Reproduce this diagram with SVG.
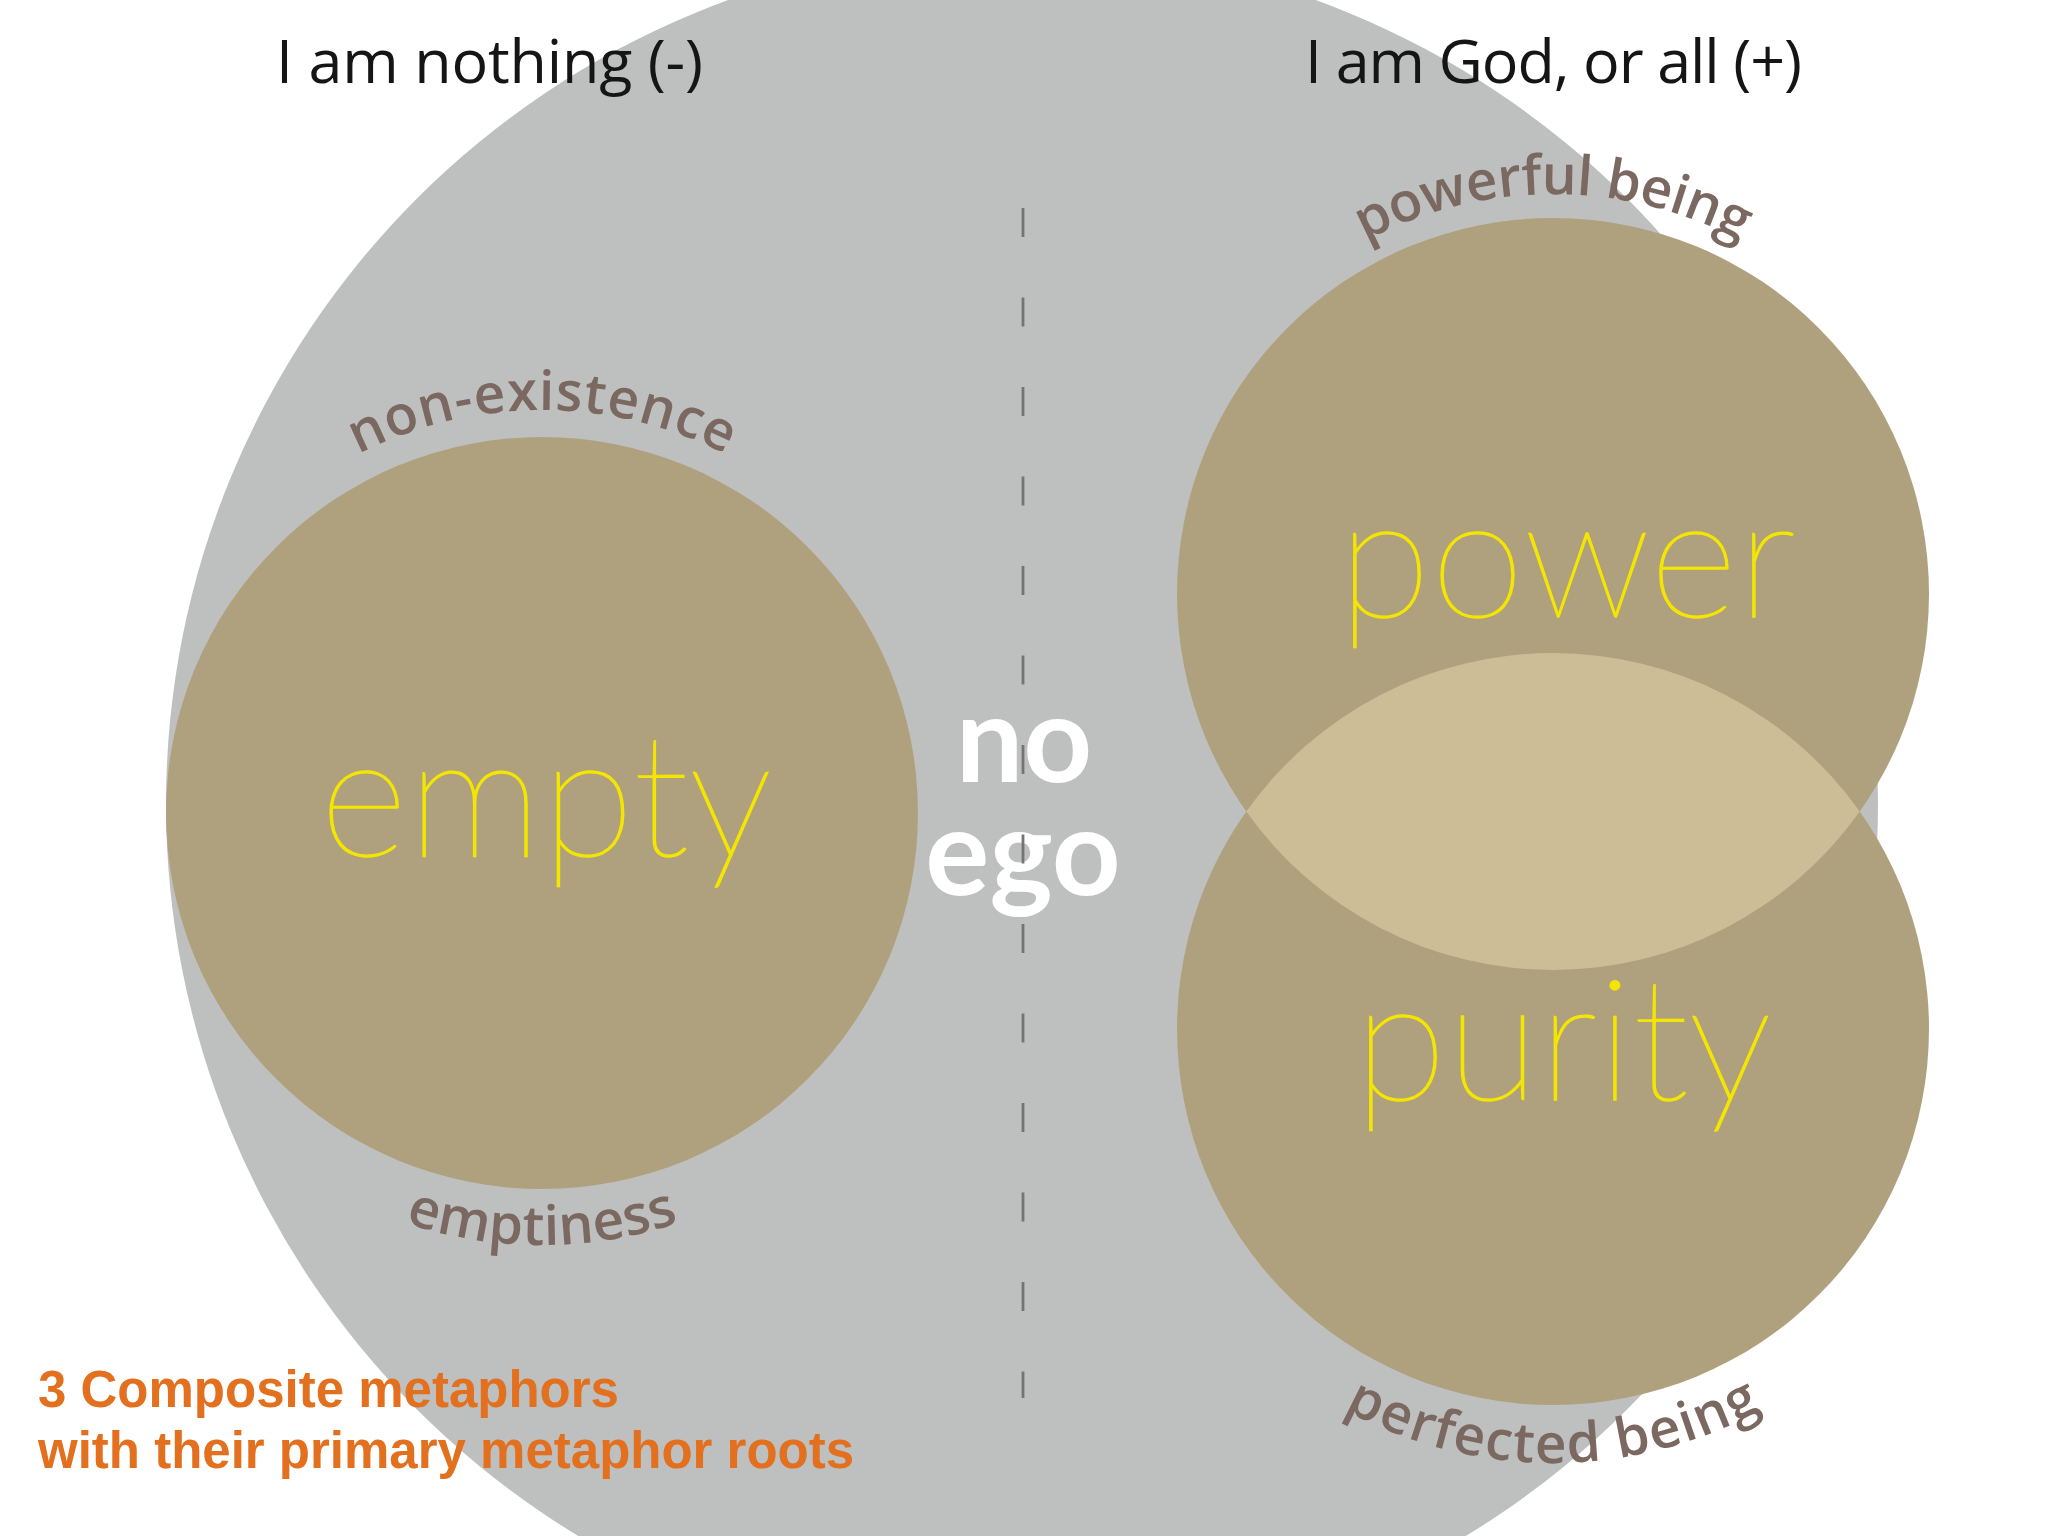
<svg xmlns="http://www.w3.org/2000/svg" width="2048" height="1536" viewBox="0 0 2048 1536">
<style>
.title{font-family:"Open Sans","Noto Sans",sans-serif;font-weight:500;font-size:61px;fill:#151515}
.root{font-family:"Open Sans","Noto Sans",sans-serif;font-weight:600;font-size:55px;fill:#7b6860}
.big{font-family:Lato,"Open Sans",sans-serif;font-weight:200;font-size:170px;fill:#f4e600;stroke:#f4e600;stroke-width:1.4px}
.noego{font-family:Lato,"Open Sans",sans-serif;font-weight:700;font-size:120px;fill:#ffffff}
.note{font-family:"Liberation Sans",Arial,sans-serif;font-weight:700;font-size:51px;fill:#e2701f}
.tan{fill:#b0a17e}
</style>
<defs>
<path id="arcNon" d="M 139,813 A 403 403 0 0 1 945,813"/>
<path id="arcEmp" d="M 110,813 A 432 432 0 0 0 974,813"/>
<path id="arcPow" d="M 1153,594 A 400 400 0 0 1 1953,594"/>
<path id="arcPer" d="M 1119,1029 A 434 434 0 0 0 1987,1029"/>
</defs>
<rect width="2048" height="1536" fill="#ffffff"/>
<g id="ego-field">
<circle cx="1022" cy="804" r="856" fill="#bec0bf"/>
</g>
<g id="titles">
<text class="title" x="276" y="83" textLength="427">I am nothing (-)</text>
<text class="title" x="1305" y="83" textLength="497">I am God, or all (+)</text>
</g>
<g id="empty">
<circle class="tan" cx="542" cy="813" r="376"/>
<text class="big" x="546" y="856" text-anchor="middle">empty</text>
<text class="root"><textPath href="#arcNon" startOffset="50%" text-anchor="middle" textLength="382">non-existence</textPath></text>
<text class="root"><textPath href="#arcEmp" startOffset="50%" text-anchor="middle" textLength="279">emptiness</textPath></text>
</g>
<g id="power">
<circle class="tan" cx="1553" cy="594" r="376"/>
<text class="root"><textPath href="#arcPow" startOffset="50%" text-anchor="middle" textLength="391">powerful being</textPath></text>
</g>
<g id="purity">
<circle class="tan" cx="1553" cy="1029" r="376"/>
<text class="root"><textPath href="#arcPer" startOffset="50%" text-anchor="middle" textLength="436">perfected being</textPath></text>
</g>
<g id="overlap">
<path d="M 1246.3,811.5 A 376 376 0 0 1 1859.7,811.5 A 376 376 0 0 1 1246.3,811.5 Z" fill="#cdbd96"/>
</g>
<g id="labels">
<text class="big" x="1567" y="617" text-anchor="middle">power</text>
<text class="big" x="1563" y="1100" text-anchor="middle">purity</text>
</g>
<g id="no-ego">
<text class="noego" text-anchor="middle"><tspan x="1024" y="782">no</tspan><tspan x="1023" y="895">ego</tspan></text>
</g>
<g id="connectors">
<line x1="1023" y1="208" x2="1023" y2="1398" stroke="#747474" stroke-width="2.8" stroke-dasharray="29 60.5"/>
</g>
<g id="caption">
<text class="note" x="38" y="1407">3 Composite metaphors</text>
<text class="note" x="38" y="1468">with their primary metaphor roots</text>
</g>
</svg>
